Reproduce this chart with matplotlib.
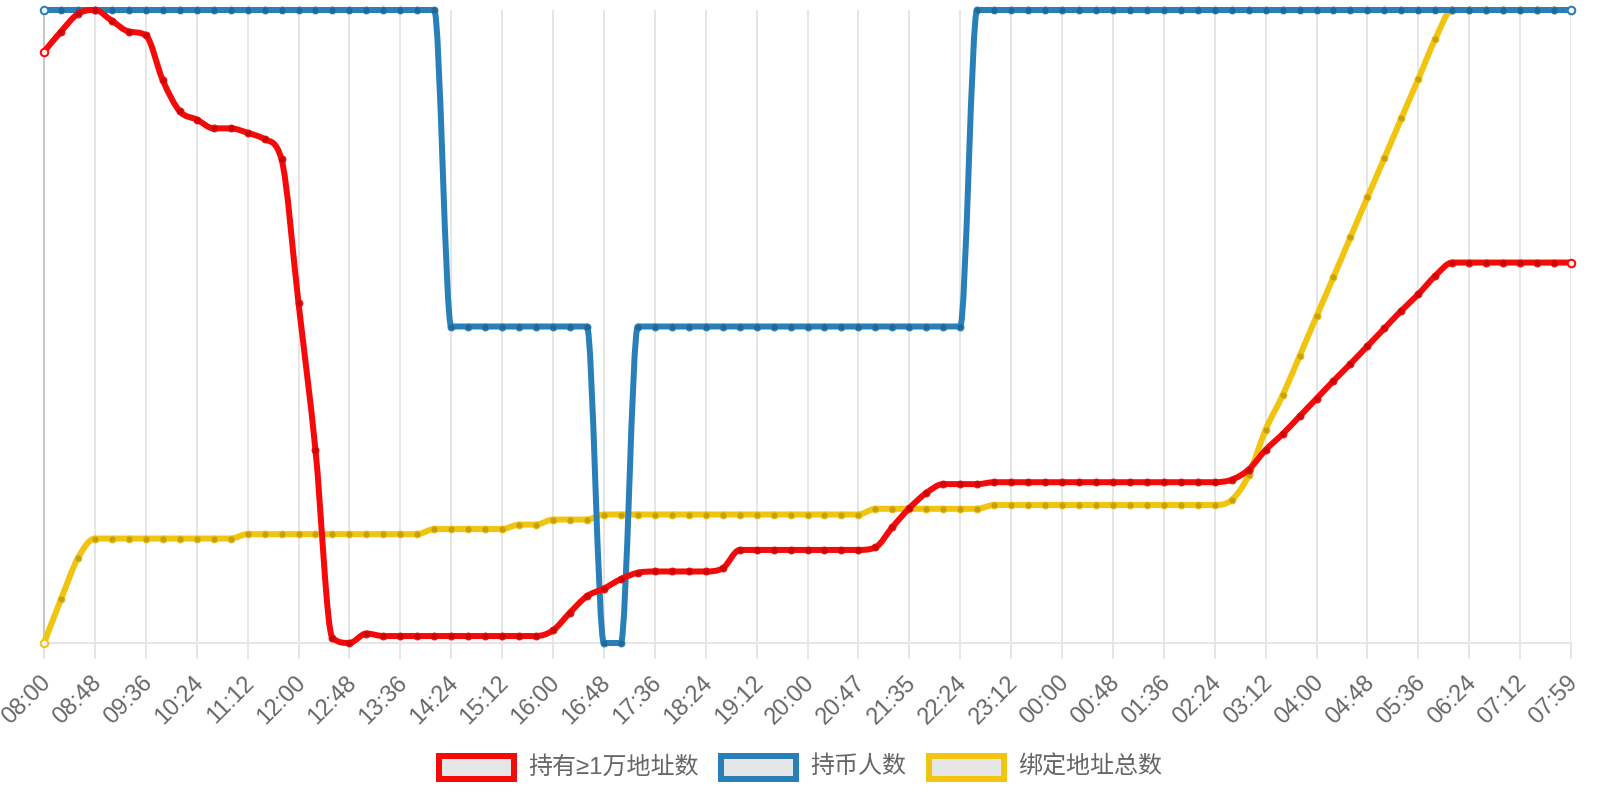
import numpy as np
import matplotlib
matplotlib.use("Agg")
import matplotlib.pyplot as plt
import matplotlib.colors as mcolors
from matplotlib.path import Path
from matplotlib.patches import PathPatch, Rectangle

plt.rcParams['font.family'] = ['Liberation Sans', 'Noto Sans CJK SC', 'DejaVu Sans']

# tick labels, one every third sample (91 samples over 24h)
times = ['08:00', '08:48', '09:36', '10:24', '11:12', '12:00', '12:48', '13:36',
         '14:24', '15:12', '16:00', '16:48', '17:36', '18:24', '19:12', '20:00',
         '20:47', '21:35', '22:24', '23:12', '00:00', '00:48', '01:36', '02:24',
         '03:12', '04:00', '04:48', '05:36', '06:24', '07:12', '07:59']

# each series sits on its own hidden axis -> values as % of its own range
rich_addr = [93.4, 96.6, 99.4, 100, 98.3, 96.6, 96.0, 88.9, 84.0, 82.7,
             81.3, 81.3, 80.6, 79.6, 76.4, 53.7, 30.5, 0.8, 0, 1.5,
             1.1, 1.1, 1.1, 1.1, 1.1, 1.1, 1.1, 1.1, 1.1, 1.1,
             2.0, 4.8, 7.4, 8.6, 10.1, 11.1, 11.3, 11.3, 11.3, 11.3,
             11.8, 14.7, 14.7, 14.7, 14.7, 14.7, 14.7, 14.7, 14.7, 15.1,
             18.3, 21.3, 23.7, 25.1, 25.1, 25.1, 25.4, 25.4, 25.4, 25.4,
             25.4, 25.4, 25.4, 25.4, 25.4, 25.4, 25.4, 25.4, 25.4, 25.4,
             25.8, 27.4, 30.5, 33.0, 35.8, 38.6, 41.4, 44.1, 46.9, 49.7,
             52.5, 55.1, 58.0, 60.1, 60.1, 60.1, 60.1, 60.1, 60.1, 60.1,
             60.1]

holders = [100, 100, 100, 100, 100, 100, 100, 100, 100, 100,
           100, 100, 100, 100, 100, 100, 100, 100, 100, 100,
           100, 100, 100, 100, 50, 50, 50, 50, 50, 50,
           50, 50, 50, 0, 0, 50, 50, 50, 50, 50,
           50, 50, 50, 50, 50, 50, 50, 50, 50, 50,
           50, 50, 50, 50, 50, 100, 100, 100, 100, 100,
           100, 100, 100, 100, 100, 100, 100, 100, 100, 100,
           100, 100, 100, 100, 100, 100, 100, 100, 100, 100,
           100, 100, 100, 100, 100, 100, 100, 100, 100, 100,
           100]

bound_addr = [0, 6.9, 13.4, 16.5, 16.5, 16.5, 16.5, 16.5, 16.5, 16.5,
              16.5, 16.5, 17.2, 17.2, 17.2, 17.2, 17.2, 17.2, 17.2, 17.2,
              17.2, 17.2, 17.2, 18.0, 18.0, 18.0, 18.0, 18.0, 18.7, 18.7,
              19.5, 19.5, 19.5, 20.3, 20.3, 20.3, 20.3, 20.3, 20.3, 20.3,
              20.3, 20.3, 20.3, 20.3, 20.3, 20.3, 20.3, 20.3, 20.3, 21.2,
              21.2, 21.2, 21.2, 21.2, 21.2, 21.2, 21.8, 21.8, 21.8, 21.8,
              21.8, 21.8, 21.8, 21.8, 21.8, 21.8, 21.8, 21.8, 21.8, 21.8,
              22.6, 26.5, 33.7, 39.1, 45.3, 51.6, 57.8, 64.1, 70.4, 76.6,
              82.9, 89.1, 95.4, 100, 100, 100, 100, 100, 100, 100,
              100]

names = ['持有≥1万地址数', '持币人数', '绑定地址总数']
colors = ['#f50a0a', '#2980b9', '#f1c40f']
series = [rich_addr, holders, bound_addr]

W, H = 1600, 800
left, right, top, bottom = 44, 1571, 10, 643
n = len(holders)
PX = 72 / 100                      # points per pixel at dpi 100


def monotone_path(y):
    # monotone cubic (Fritsch-Carlson) as bezier segments, x step = 1
    y = np.asarray(y, float)
    m = len(y)
    d = np.diff(y)
    t = np.zeros(m)
    t[0], t[-1] = d[0], d[-1]
    for i in range(1, m - 1):
        if d[i - 1] * d[i] > 0:
            t[i] = (d[i - 1] + d[i]) / 2
    for i in range(m - 1):
        if d[i] == 0:
            t[i] = t[i + 1] = 0
            continue
        a, b = t[i] / d[i], t[i + 1] / d[i]
        s = a * a + b * b
        if s > 9:
            k = 3 / np.sqrt(s)
            t[i], t[i + 1] = k * a * d[i], k * b * d[i]
    verts = [(0, y[0])]
    codes = [Path.MOVETO]
    for i in range(m - 1):
        verts += [(i + 1 / 3, y[i] + t[i] / 3), (i + 2 / 3, y[i + 1] - t[i + 1] / 3),
                  (i + 1, y[i + 1])]
        codes += [Path.CURVE4] * 3
    return Path(verts, codes)


fig = plt.figure(figsize=(16, 8), dpi=100)
ax = fig.add_axes([left / W, 1 - bottom / H, (right - left) / W, (bottom - top) / H])

x = np.arange(n)
for k, (vals, c) in enumerate(zip(series, colors)):
    z = 10 - k * 2
    ax.add_patch(PathPatch(monotone_path(vals), fill=False, edgecolor=c, lw=6 * PX,
                           joinstyle='round', capstyle='butt', zorder=z, clip_on=False))
    dark = tuple(v * 0.8 for v in mcolors.to_rgb(c))
    ax.plot(x[1:-1], vals[1:-1], 'o', ms=7 * PX, mfc=dark, mec=c, mew=1 * PX,
            alpha=0.9, zorder=z + 0.5, clip_on=False)
    ax.plot([x[0], x[-1]], [vals[0], vals[-1]], 'o', ms=7.5 * PX, mfc='#f6f6f6', mec=c,
            mew=2 * PX, zorder=z + 0.5, clip_on=False)

ax.set_xlim(0, n - 1)
ax.set_ylim(0, 100)
ax.set_yticks([])
tick_pos = np.arange(0, n, 3)
ax.set_xticks(tick_pos)
ax.set_xticklabels([])
ax.tick_params(axis='x', length=16 * PX, width=2 * PX, color='#e6e6e6')
# rotated labels placed by hand so their end sits just under the tick
for p, lab in zip(tick_pos, times):
    ax.annotate(lab, xy=(p, 0), xycoords=('data', 'axes fraction'),
                xytext=(-5 * PX, -28 * PX), textcoords='offset points',
                rotation=45, ha='right', va='top', rotation_mode='anchor',
                fontsize=16.8, color='#666666', annotation_clip=False)
ax.grid(axis='x', color='#e6e6e6', lw=2 * PX, zorder=0)
ax.set_axisbelow(True)
for s in ['top', 'right']:
    ax.spines[s].set_visible(False)
ax.spines['left'].set_color('#c8c8c8')
ax.spines['left'].set_linewidth(2 * PX)
ax.spines['bottom'].set_color('#e6e6e6')
ax.spines['bottom'].set_linewidth(2 * PX)

# legend drawn by hand: grey box with thick coloured border, like chart.js
box_x = [436, 718, 926]
for bx, name, c in zip(box_x, names, colors):
    fig.patches.append(Rectangle(((bx + 3) / W, 1 - 779 / H), 75 / W, 23 / H,
                                 transform=fig.transFigure, facecolor='#e6e6e6',
                                 edgecolor=c, lw=6 * PX))
    fig.text((bx + 92) / W, 1 - 767 / H, name, fontsize=17.3, color='#666666',
             ha='left', va='center', family=['Liberation Sans', 'Noto Sans CJK SC'])

fig.savefig('out.png', dpi=100, facecolor='white')
